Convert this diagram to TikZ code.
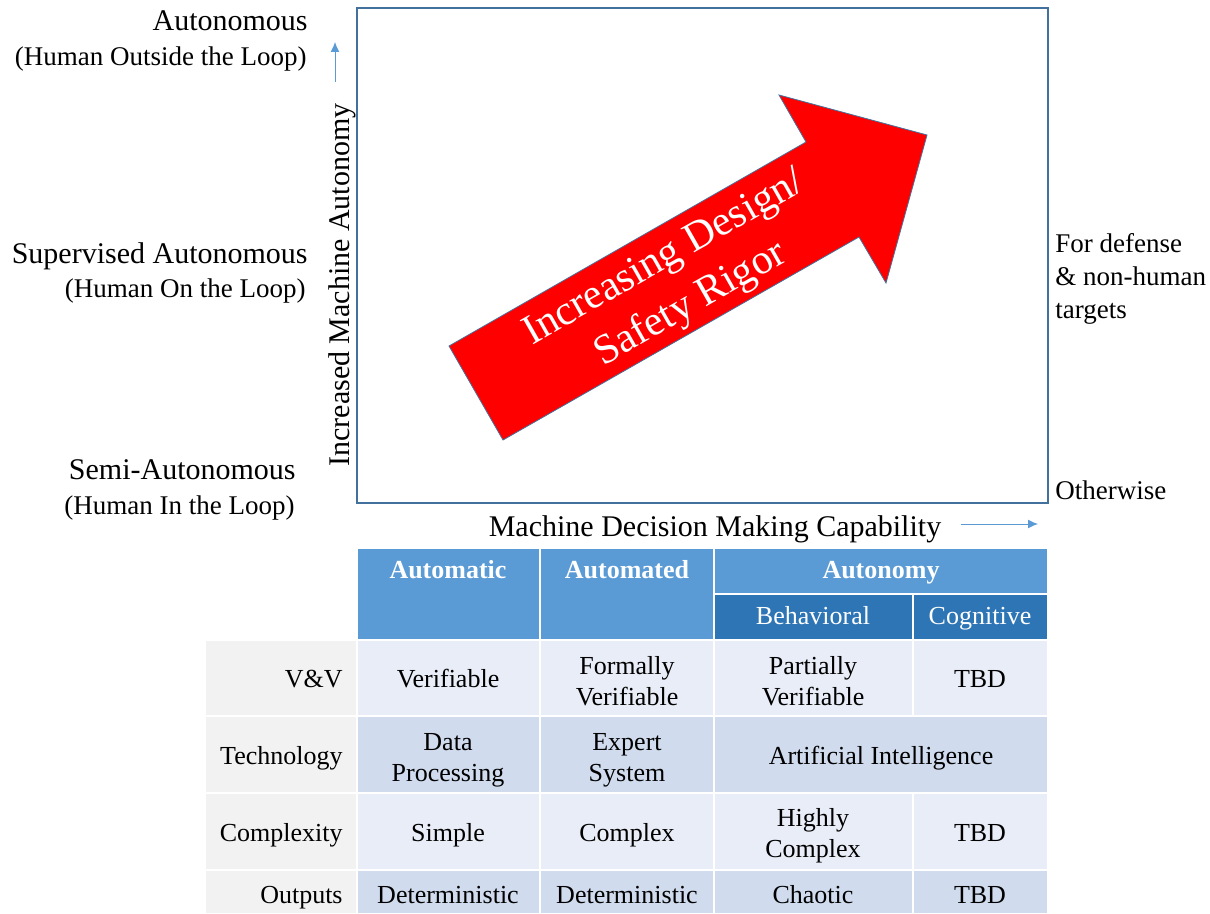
\documentclass[tikz,border=0pt]{standalone}
\usepackage{fontspec}
\setmainfont{Liberation Serif}
\usetikzlibrary{calc,positioning,arrows.meta}
\definecolor{frameblue}{HTML}{41719C}
\definecolor{axisblue}{HTML}{5B9BD5}
\definecolor{headblue}{HTML}{5B9BD5}
\definecolor{subblue}{HTML}{2E75B6}
\definecolor{rowlight}{HTML}{E9EDF7}
\definecolor{rowdark}{HTML}{D0DCEE}
\definecolor{labelgray}{HTML}{F2F2F2}
\newcommand\bigfont{\fontsize{15}{17}\selectfont}
\newcommand\subfont{\fontsize{13.5}{16.5}\selectfont}
\newcommand\tabfont{\fontsize{13}{15.5}\selectfont}
\newcommand\rigorfont{\fontsize{21}{26.5}\selectfont}
\tikzset{
    lvl/.style={anchor=east,inner sep=0pt,font=\bigfont,text height=0.7em,text depth=0.2em},
    lvlsub/.style={anchor=east,inner sep=0pt,font=\subfont,text height=0.7em,text depth=0.2em},
    axisarrow/.style={axisblue,line width=0.5pt,-{Latex[length=5pt,width=4.5pt]}},
    tabcell/.style={draw=white,line width=1pt},
    oneline/.style={text height=0.7em,text depth=0.2em},
    celltext/.style={inner sep=0pt,align=center,font=\tabfont},
    headtext/.style={inner sep=0pt,oneline,font=\tabfont\bfseries,text=white},
    subtext/.style={inner sep=0pt,oneline,font=\tabfont,text=white},
    rowlabel/.style={inner sep=0pt,oneline,anchor=east,font=\tabfont}
}
\begin{document}
\begin{tikzpicture}[x=0.5pt,y=-0.5pt]
    \useasboundingbox (0,0) rectangle (1210,914);
    % chart frame and axes
    \draw[frameblue,line width=0.8pt] (357,8) rectangle (1048,503);
    \coordinate (ytail) at (335,82);
    \coordinate (ytip) at (335,42);
    \draw[axisarrow] (ytail) -- (ytip);
    \coordinate (xtail) at (961,524);
    \coordinate (xtip) at (1038,524);
    \draw[axisarrow] (xtail) -- (xtip);
    \node[font=\bigfont,rotate=90] (yaxis) at (342,285) {Increased Machine Autonomy};
    \node[font=\bigfont] (xaxis) at (715,529) {Machine Decision Making Capability};

    % levels of autonomy
    \node[lvl] (auto) at (308,26) {Autonomous};
    \node[lvlsub] (autosub) at (307,61) {(Human Outside the Loop)};
    \node[lvl] (super) at (308,259) {Supervised Autonomous};
    \node[lvlsub] (supersub) at (306,293) {(Human On the Loop)};
    \node[lvl] (semi) at (296,475) {Semi-Autonomous};
    \node[lvlsub] (semisub) at (295,509) {(Human In the Loop)};

    % right side notes
    \node[anchor=west,align=left,inner sep=0pt,font=\subfont] (defense) at (1055,279) {For defense\\\& non-human\\targets};
    \node[anchor=west,inner sep=0pt,oneline,font=\subfont] (otherwise) at (1055,495) {Otherwise};

    % big red arrow
    \draw[fill=red,draw=frameblue,line width=0.4pt] (449,346) -- (806,142) -- (779,95) -- (927,135)
        -- (886,283) -- (859,237) -- (503,440) -- cycle;
    \node[rotate=29.7,align=center,text=white,font=\rigorfont] (rigor) at (678,282) {Increasing Design/\\Safety Rigor};

    % table header
    \filldraw[tabcell,fill=headblue] (357,548) rectangle (540,640);
    \filldraw[tabcell,fill=headblue] (540,548) rectangle (714,640);
    \filldraw[tabcell,fill=headblue] (714,548) rectangle (1048,594);
    \filldraw[tabcell,fill=subblue] (714,594) rectangle (913,640);
    \filldraw[tabcell,fill=subblue] (913,594) rectangle (1048,640);
    \node[headtext] (hauto) at (448,573) {Automatic};
    \node[headtext] (hated) at (627,573) {Automated};
    \node[headtext] (hnomy) at (881,573) {Autonomy};
    \node[subtext] (hbeh) at (813,619) {Behavioral};
    \node[subtext] (hcog) at (980,619) {Cognitive};

    % table rows
    \filldraw[tabcell,fill=labelgray] (205,640) rectangle (357,716);
    \filldraw[tabcell,fill=labelgray] (205,716) rectangle (357,793);
    \filldraw[tabcell,fill=labelgray] (205,793) rectangle (357,870);
    \filldraw[tabcell,fill=labelgray] (205,870) rectangle (357,914);

    \filldraw[tabcell,fill=rowlight] (357,640) rectangle (540,716);
    \filldraw[tabcell,fill=rowlight] (540,640) rectangle (714,716);
    \filldraw[tabcell,fill=rowlight] (714,640) rectangle (913,716);
    \filldraw[tabcell,fill=rowlight] (913,640) rectangle (1048,716);

    \filldraw[tabcell,fill=rowdark] (357,716) rectangle (540,793);
    \filldraw[tabcell,fill=rowdark] (540,716) rectangle (714,793);
    \filldraw[tabcell,fill=rowdark] (714,716) rectangle (1048,793);

    \filldraw[tabcell,fill=rowlight] (357,793) rectangle (540,870);
    \filldraw[tabcell,fill=rowlight] (540,793) rectangle (714,870);
    \filldraw[tabcell,fill=rowlight] (714,793) rectangle (913,870);
    \filldraw[tabcell,fill=rowlight] (913,793) rectangle (1048,870);

    \filldraw[tabcell,fill=rowdark] (357,870) rectangle (540,914);
    \filldraw[tabcell,fill=rowdark] (540,870) rectangle (714,914);
    \filldraw[tabcell,fill=rowdark] (714,870) rectangle (913,914);
    \filldraw[tabcell,fill=rowdark] (913,870) rectangle (1048,914);

    \node[rowlabel] (vv) at (343,682) {V\&V};
    \node[celltext,oneline] (vvA) at (448,682) {Verifiable};
    \node[celltext] (vvB) at (627,681) {Formally\\Verifiable};
    \node[celltext] (vvC) at (813,681) {Partially\\Verifiable};
    \node[celltext,oneline] (vvD) at (980,682) {TBD};

    \node[rowlabel] (tech) at (343,759) {Technology};
    \node[celltext] (techA) at (448,760) {Data\\Processing};
    \node[celltext] (techB) at (627,760) {Expert\\System};
    \node[celltext,oneline] (techC) at (881,759) {Artificial Intelligence};

    \node[rowlabel] (cplx) at (343,836) {Complexity};
    \node[celltext,oneline] (cplxA) at (448,836) {Simple};
    \node[celltext,oneline] (cplxB) at (627,836) {Complex};
    \node[celltext] (cplxC) at (813,836) {Highly\\Complex};
    \node[celltext,oneline] (cplxD) at (980,836) {TBD};

    \node[rowlabel] (outs) at (343,898) {Outputs};
    \node[celltext,oneline] (outsA) at (448,898) {Deterministic};
    \node[celltext,oneline] (outsB) at (627,898) {Deterministic};
    \node[celltext,oneline] (outsC) at (813,898) {Chaotic};
    \node[celltext,oneline] (outsD) at (980,898) {TBD};
\end{tikzpicture}
\end{document}
